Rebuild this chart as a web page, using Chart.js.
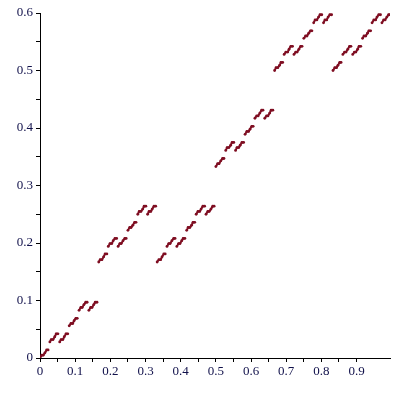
<!DOCTYPE html>
<html>
<head>
<meta charset="utf-8">
<script src="https://cdn.jsdelivr.net/npm/chart.js@4"></script>
<style>
  body { margin: 0; background: #fff; }
</style>
</head>
<body>
<canvas id="myChart" width="400" height="400"></canvas>
<script>
// x positions of the plotted points
let xs = [
  0.000, 0.005, 0.009, 0.014, 0.019, 0.023, 0.028, 0.032, 0.037, 0.042, 0.046, 0.051,
  0.056, 0.060, 0.065, 0.069, 0.074, 0.079, 0.083, 0.088, 0.093, 0.097, 0.102, 0.106,
  0.111, 0.116, 0.120, 0.125, 0.130, 0.134, 0.139, 0.144, 0.148, 0.153, 0.157, 0.162,
  0.167, 0.171, 0.176, 0.181, 0.185, 0.190, 0.194, 0.199, 0.204, 0.208, 0.213, 0.218,
  0.222, 0.227, 0.231, 0.236, 0.241, 0.245, 0.250, 0.255, 0.259, 0.264, 0.269, 0.273,
  0.278, 0.282, 0.287, 0.292, 0.296, 0.301, 0.306, 0.310, 0.315, 0.319, 0.324, 0.329,
  0.333, 0.338, 0.343, 0.347, 0.352, 0.356, 0.361, 0.366, 0.370, 0.375, 0.380, 0.384,
  0.389, 0.394, 0.398, 0.403, 0.407, 0.412, 0.417, 0.421, 0.426, 0.431, 0.435, 0.440,
  0.444, 0.449, 0.454, 0.458, 0.463, 0.468, 0.472, 0.477, 0.481, 0.486, 0.491, 0.495,
  0.500, 0.505, 0.509, 0.514, 0.519, 0.523, 0.528, 0.532, 0.537, 0.542, 0.546, 0.551,
  0.556, 0.560, 0.565, 0.569, 0.574, 0.579, 0.583, 0.588, 0.593, 0.597, 0.602, 0.606,
  0.611, 0.616, 0.620, 0.625, 0.630, 0.634, 0.639, 0.644, 0.648, 0.653, 0.657, 0.662,
  0.667, 0.671, 0.676, 0.681, 0.685, 0.690, 0.694, 0.699, 0.704, 0.708, 0.713, 0.718,
  0.722, 0.727, 0.731, 0.736, 0.741, 0.745, 0.750, 0.755, 0.759, 0.764, 0.769, 0.773,
  0.778, 0.782, 0.787, 0.792, 0.796, 0.801, 0.806, 0.810, 0.815, 0.819, 0.824, 0.829,
  0.833, 0.838, 0.843, 0.847, 0.852, 0.856, 0.861, 0.866, 0.870, 0.875, 0.880, 0.884,
  0.889, 0.894, 0.898, 0.903, 0.907, 0.912, 0.917, 0.921, 0.926, 0.931, 0.935, 0.940,
  0.944, 0.949, 0.954, 0.958, 0.963, 0.968, 0.972, 0.977, 0.981, 0.986, 0.991, 0.995
];

// y values, one per x above
let ys = [
  0.000, 0.005, 0.005, 0.009, 0.014, 0.014, 0.028, 0.032, 0.032, 0.037, 0.042, 0.042,
  0.028, 0.032, 0.032, 0.037, 0.042, 0.042, 0.056, 0.060, 0.060, 0.065, 0.069, 0.069,
  0.083, 0.088, 0.088, 0.093, 0.097, 0.097, 0.083, 0.088, 0.088, 0.093, 0.097, 0.097,
  0.167, 0.171, 0.171, 0.176, 0.181, 0.181, 0.194, 0.199, 0.199, 0.204, 0.208, 0.208,
  0.194, 0.199, 0.199, 0.204, 0.208, 0.208, 0.222, 0.227, 0.227, 0.231, 0.236, 0.236,
  0.250, 0.255, 0.255, 0.259, 0.264, 0.264, 0.250, 0.255, 0.255, 0.259, 0.264, 0.264,
  0.167, 0.171, 0.171, 0.176, 0.181, 0.181, 0.194, 0.199, 0.199, 0.204, 0.208, 0.208,
  0.194, 0.199, 0.199, 0.204, 0.208, 0.208, 0.222, 0.227, 0.227, 0.231, 0.236, 0.236,
  0.250, 0.255, 0.255, 0.259, 0.264, 0.264, 0.250, 0.255, 0.255, 0.259, 0.264, 0.264,
  0.333, 0.338, 0.338, 0.343, 0.347, 0.347, 0.361, 0.366, 0.366, 0.370, 0.375, 0.375,
  0.361, 0.366, 0.366, 0.370, 0.375, 0.375, 0.389, 0.394, 0.394, 0.398, 0.403, 0.403,
  0.417, 0.421, 0.421, 0.426, 0.431, 0.431, 0.417, 0.421, 0.421, 0.426, 0.431, 0.431,
  0.500, 0.505, 0.505, 0.509, 0.514, 0.514, 0.528, 0.532, 0.532, 0.537, 0.542, 0.542,
  0.528, 0.532, 0.532, 0.537, 0.542, 0.542, 0.556, 0.560, 0.560, 0.565, 0.569, 0.569,
  0.583, 0.588, 0.588, 0.593, 0.597, 0.597, 0.583, 0.588, 0.588, 0.593, 0.597, 0.597,
  0.500, 0.505, 0.505, 0.509, 0.514, 0.514, 0.528, 0.532, 0.532, 0.537, 0.542, 0.542,
  0.528, 0.532, 0.532, 0.537, 0.542, 0.542, 0.556, 0.560, 0.560, 0.565, 0.569, 0.569,
  0.583, 0.588, 0.588, 0.593, 0.597, 0.597, 0.583, 0.588, 0.588, 0.593, 0.597, 0.597
];

let xTickLabels = ['0', '0.1', '0.2', '0.3', '0.4', '0.5', '0.6', '0.7', '0.8', '0.9'];
let yTickLabels = ['0', '0.1', '0.2', '0.3', '0.4', '0.5', '0.6'];

let points = xs.map((x, i) => ({ x: x, y: ys[i] }));

let dotColor = '#7f0e22';
let labelFont = { family: '"Liberation Serif", "Times New Roman", serif', size: 13 };
let labelColor = '#10104a';

// only label the multiples of 0.1, minor ticks stay blank
function tickText(labels) {
    return function (value) {
        let s = String(Math.round(value * 10) / 10);
        return Math.abs(value * 10 - Math.round(value * 10)) < 1e-6 && labels.includes(s) ? s : '';
    };
}

// join neighbouring points inside one little dash, leave the jumps open
function segColor(c) {
    let dy = c.p1.parsed.y - c.p0.parsed.y;
    return dy < 0 || dy > 0.007 ? 'rgba(0,0,0,0)' : dotColor;
}

let ctx = document.getElementById('myChart').getContext('2d');

let chart = new Chart(ctx, {
    type: 'scatter',
    data: {
        datasets: [{
            data: points,
            showLine: true,
            borderColor: dotColor,
            borderWidth: 2,
            segment: { borderColor: segColor },
            backgroundColor: dotColor,
            pointBorderWidth: 0,
            pointRadius: 1.4,
            pointHoverRadius: 1.4
        }]
    },
    options: {
        responsive: false,
        animation: false,
        layout: { padding: { top: 13, right: 10, left: 0, bottom: 0 } },
        plugins: {
            legend: { display: false },
            tooltip: { enabled: false }
        },
        scales: {
            x: {
                type: 'linear',
                min: 0,
                max: 0.995,
                afterFit: (scale) => { scale.height = 42; },
                border: { display: true, color: '#000', width: 1 },
                grid: {
                    drawOnChartArea: false,
                    drawTicks: true,
                    tickLength: 4,
                    tickColor: (c) => (c.tick && c.tick.value > 0.99 ? 'rgba(0,0,0,0)' : '#000')
                },
                ticks: {
                    stepSize: 0.05,
                    autoSkip: false,
                    maxRotation: 0,
                    padding: 2,
                    color: labelColor,
                    font: labelFont,
                    callback: tickText(xTickLabels)
                }
            },
            y: {
                min: 0,
                max: 0.6,
                afterFit: (scale) => { scale.width = 40; },
                border: { display: true, color: '#000', width: 1 },
                grid: {
                    drawOnChartArea: false,
                    drawTicks: true,
                    tickLength: 4,
                    tickColor: '#000'
                },
                ticks: {
                    stepSize: 0.05,
                    autoSkip: false,
                    padding: 3,
                    color: labelColor,
                    font: labelFont,
                    callback: tickText(yTickLabels)
                }
            }
        }
    }
});
</script>
</body>
</html>
